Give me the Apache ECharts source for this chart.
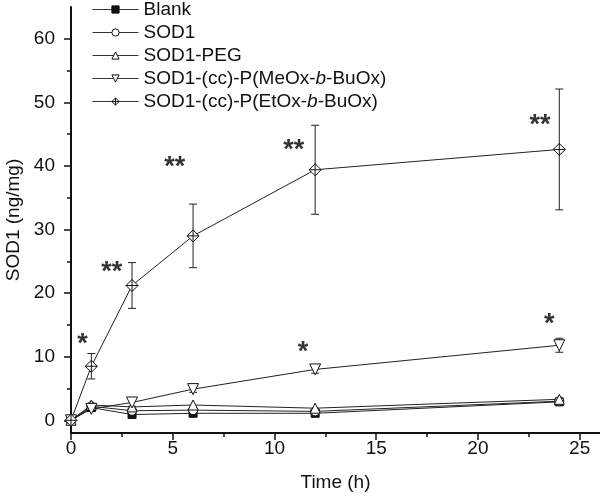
<!DOCTYPE html>
<html><head><meta charset="utf-8">
<script src="https://cdn.jsdelivr.net/npm/echarts@6/dist/echarts.min.js"></script>
<style>html,body{margin:0;padding:0;background:#fff}#c{width:600px;height:497px}</style>
</head><body><div id="c"></div>
<script>
// ---- data ----
const times = [0, 1, 3, 6, 12, 24];
const blank = [0, 2.0, 0.9, 1.1, 1.1, 2.9];
const sod1 = [0, 2.2, 1.5, 1.6, 1.4, 3.0];
const sodPeg = [0, 2.4, 2.1, 2.4, 1.9, 3.3];
const meox = [0, 1.8, 2.8, 4.9, 8.0, 11.8];
const meoxErr = [0, 0.4, 0.6, 0.5, 0.6, 1.1];
const etox = [0, 8.5, 21.2, 29.0, 39.4, 42.6];
const etoxErr = [0, 2.0, 3.6, 5.0, 7.0, 9.5];
const seriesNames = ['Blank', 'SOD1', 'SOD1-PEG', 'SOD1-(cc)-P(MeOx-b-BuOx)', 'SOD1-(cc)-P(EtOx-b-BuOx)'];
const starX = [0.57, 2.0, 5.1, 10.95, 23.05, 11.4, 23.5];
const starY = [11.9, 23.3, 39.8, 42.4, 46.3, 10.6, 15.0];
const starText = ['*', '**', '**', '**', '**', '*', '*'];
const xTicks = [0, 5, 10, 15, 20, 25];
const xMinor = [2.5, 7.5, 12.5, 17.5, 22.5];
const yTicks = [0, 10, 20, 30, 40, 50, 60];
const yMinor = [5, 15, 25, 35, 45, 55];

const FONT = 'Liberation Sans, Arial, Helvetica, sans-serif';
const INK = '#111';
const pair = (xs, ys) => xs.map((x, i) => [x, ys[i]]);

function errBars(vals, errs) {
  return {
    type: 'custom',
    silent: true,
    z: 1,
    data: times.map((t, i) => [t, vals[i] - errs[i], vals[i] + errs[i]]).filter((d, i) => errs[i] > 0),
    encode: { x: 0, y: [1, 2] },
    renderItem: function (params, api) {
      const lo = api.coord([api.value(0), api.value(1)]);
      const hi = api.coord([api.value(0), api.value(2)]);
      const w = 4;
      const st = { stroke: '#222', lineWidth: 1 };
      return {
        type: 'group',
        children: [
          { type: 'line', shape: { x1: lo[0], y1: lo[1], x2: hi[0], y2: hi[1] }, style: st },
          { type: 'line', shape: { x1: lo[0] - w, y1: lo[1], x2: lo[0] + w, y2: lo[1] }, style: st },
          { type: 'line', shape: { x1: hi[0] - w, y1: hi[1], x2: hi[0] + w, y2: hi[1] }, style: st }
        ]
      };
    }
  };
}

function lineSeries(name, vals, symbol, size, filled) {
  return {
    name: name,
    type: 'line',
    data: pair(times, vals),
    symbol: symbol,
    symbolSize: size,
    showAllSymbol: true,
    z: 3,
    lineStyle: { color: '#222', width: 1 },
    itemStyle: { color: filled ? INK : '#fff', borderColor: INK, borderWidth: 1 }
  };
}

const diamondCross = 'path://M0,-10 L10,0 L0,10 L-10,0 Z M0,-10 L0,10 M-10,0 L10,0';
const triDown = 'path://M-10,-9 L10,-9 L0,9 Z';
const triUp = 'path://M-10,9 L10,9 L0,-9 Z';

const option = {
  animation: false,
  backgroundColor: '#fff',
  textStyle: { fontFamily: FONT },
  grid: { left: 71, right: 0, top: 7, bottom: 64, outerBoundsMode: 'none', containLabel: false },
  legend: {
    left: 92, top: 0, orient: 'vertical', padding: 0,
    itemWidth: 46, itemHeight: 9, itemGap: 4,
    data: seriesNames.map((n, i) => ({
      name: n,
      itemStyle: { color: i === 0 ? INK : '#fff', borderColor: INK, borderWidth: 1 }
    })),
    lineStyle: { color: '#333', width: 1 },
    formatter: function (n) {
      return n.replace('-b-', '-{i|b}-');
    },
    textStyle: {
      fontFamily: FONT, fontSize: 19, color: INK,
      rich: { i: { fontStyle: 'italic', fontFamily: FONT, fontSize: 19, color: INK } }
    }
  },
  xAxis: [{
    type: 'value', min: 0, max: 26,
    name: 'Time (h)', nameLocation: 'middle', nameGap: 40,
    nameTextStyle: { fontFamily: FONT, fontSize: 19, color: INK },
    axisLine: { show: true, onZero: false, lineStyle: { color: INK, width: 2 } },
    axisTick: { show: true, inside: false, length: 7, customValues: xTicks, lineStyle: { color: INK, width: 1.5 } },
    axisLabel: { customValues: xTicks, margin: 6, fontFamily: FONT, fontSize: 19, color: INK },
    splitLine: { show: false }
  }, {
    type: 'value', min: 0, max: 26, position: 'bottom',
    axisLine: { show: false, onZero: false },
    axisTick: { show: true, length: 4, customValues: xMinor, lineStyle: { color: INK, width: 1.5 } },
    axisLabel: { show: false },
    splitLine: { show: false }
  }],
  yAxis: [{
    type: 'value', min: -2, max: 65,
    name: 'SOD1 (ng/mg)', nameLocation: 'middle', nameGap: 47,
    nameTextStyle: { fontFamily: FONT, fontSize: 19, color: INK },
    axisLine: { show: true, onZero: false, lineStyle: { color: INK, width: 2 } },
    axisTick: { show: true, length: 7, customValues: yTicks, lineStyle: { color: INK, width: 1.5 } },
    axisLabel: { customValues: yTicks, margin: 16, fontFamily: FONT, fontSize: 19, color: INK },
    splitLine: { show: false }
  }, {
    type: 'value', min: -2, max: 65, position: 'left',
    axisLine: { show: false, onZero: false },
    axisTick: { show: true, length: 4, customValues: yMinor, lineStyle: { color: INK, width: 1.5 } },
    axisLabel: { show: false },
    splitLine: { show: false }
  }],
  series: [
    errBars(meox, meoxErr),
    errBars(etox, etoxErr),
    lineSeries(seriesNames[0], blank, 'rect', 8, true),
    lineSeries(seriesNames[1], sod1, 'circle', 9, false),
    lineSeries(seriesNames[2], sodPeg, triUp, 10, false),
    lineSeries(seriesNames[3], meox, triDown, 11, false),
    lineSeries(seriesNames[4], etox, diamondCross, 12, false),
    {
      type: 'scatter', silent: true, z: 5,
      symbolSize: 1, itemStyle: { color: 'rgba(0,0,0,0)' },
      data: starX.map((x, i) => ({ value: [x, starY[i]], name: starText[i] })),
      label: {
        show: true, position: 'inside', formatter: '{b}',
        fontFamily: FONT, fontSize: 27, fontWeight: 'bold', color: '#000'
      }
    }
  ]
};
const chart = echarts.init(document.getElementById('c'), null, { renderer: 'canvas' });
chart.setOption(option);
</script>
</body></html>
